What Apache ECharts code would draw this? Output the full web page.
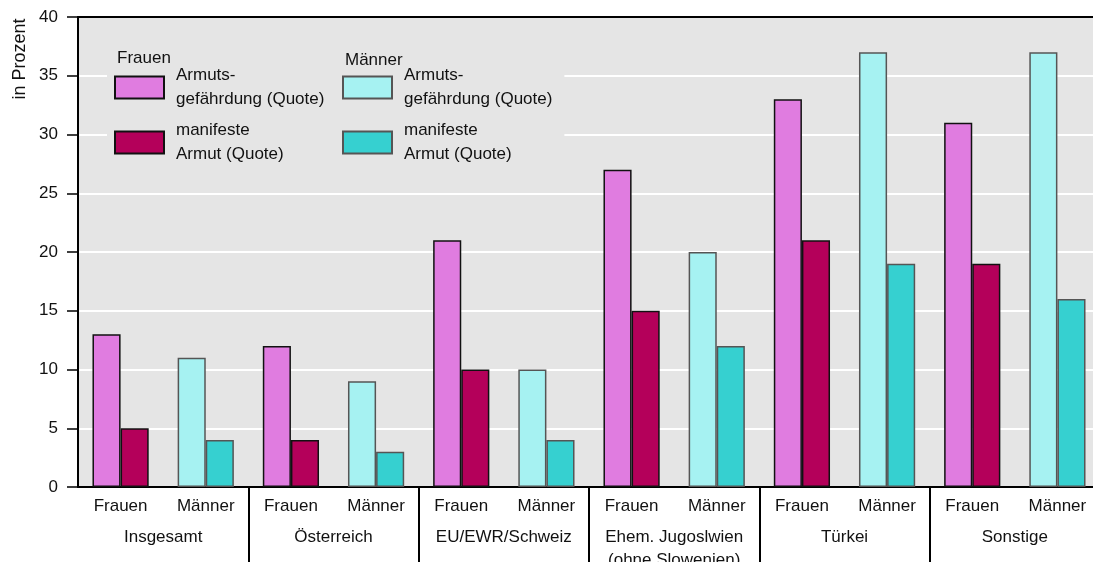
<!DOCTYPE html>
<html>
<head>
<meta charset="utf-8">
<script src="https://cdn.jsdelivr.net/npm/echarts@6/dist/echarts.min.js"></script>
<style>
  html, body { margin: 0; padding: 0; background: #fff; }
  #chart { width: 1093px; height: 562px; }
</style>
</head>
<body>
<div id="chart"></div>
<script>
// Armutsgefährdung / manifeste Armut nach Staatsbürgerschaft und Geschlecht

const categories = ['Frauen', 'Männer', 'Frauen', 'Männer', 'Frauen', 'Männer',
  'Frauen', 'Männer', 'Frauen', 'Männer', 'Frauen', 'Männer'];
const groups = ['Insgesamt', 'Österreich', 'EU/EWR/Schweiz',
  'Ehem. Jugoslwien\n(ohne Slowenien)', 'Türkei', 'Sonstige'];

const frauenArmutsgef = [13, null, 12, null, 21, null, 27, null, 33, null, 31, null];
const frauenManifest  = [5, null, 4, null, 10, null, 15, null, 21, null, 19, null];
const maennerArmutsgef = [null, 11, null, 9, null, 10, null, 20, null, 37, null, 37];
const maennerManifest  = [null, 4, null, 3, null, 4, null, 12, null, 19, null, 16];

const yTicks = { min: 0, max: 40, step: 5 };

const legendNames = {
  fA: 'Armuts-\ngefährdung (Quote)',
  fM: 'manifeste\nArmut (Quote)',
  mA: 'Armuts-\ngefährdung (Quote)',
  mM: 'manifeste\nArmut (Quote)'
};

const font = 'Liberation Sans, Arial, sans-serif';
const chart = echarts.init(document.getElementById('chart'));

const legendText = {
  fontFamily: font,
  fontSize: 17,
  color: '#111',
  lineHeight: 24,
  padding: [24, 0, 0, 7]
};

const option = {
  animation: false,
  grid: {
    left: 78, right: -7, top: 17, bottom: 75,
    outerBoundsMode: 'none',
    show: true, backgroundColor: '#e5e5e5', borderWidth: 0
  },
  legend: [
    {
      data: ['fA', 'fM'],
      orient: 'vertical',
      left: 107, top: 41.5,
      padding: [10, 12, 5, 7],
      backgroundColor: '#e5e5e5',
      icon: 'rect',
      itemWidth: 49, itemHeight: 22,
      itemGap: -17,
      selectedMode: false,
      formatter: n => legendNames[n],
      textStyle: legendText
    },
    {
      data: ['mA', 'mM'],
      orient: 'vertical',
      left: 335, top: 41.5,
      padding: [10, 12, 5, 7],
      backgroundColor: '#e5e5e5',
      icon: 'rect',
      itemWidth: 49, itemHeight: 22,
      itemGap: -17,
      selectedMode: false,
      formatter: n => legendNames[n],
      textStyle: legendText
    }
  ],
  graphic: [
    { type: 'text', x: 20, y: 59, rotation: Math.PI / 2, z: 100,
      style: { text: 'in Prozent', font: '18px ' + font, fill: '#111', align: 'center', verticalAlign: 'middle' } },
    { type: 'text', x: 117, y: 58, z: 100,
      style: { text: 'Frauen', font: '17px ' + font, fill: '#111', verticalAlign: 'middle' } },
    { type: 'text', x: 345, y: 60, z: 100,
      style: { text: 'Männer', font: '17px ' + font, fill: '#111', verticalAlign: 'middle' } }
  ],
  xAxis: [
    {
      type: 'category',
      data: categories,
      axisLine: { lineStyle: { color: '#000', width: 2 } },
      axisTick: { show: false },
      axisLabel: { interval: 0, fontFamily: font, fontSize: 17, color: '#111', margin: 9, lineHeight: 20 }
    },
    {
      type: 'category',
      data: groups,
      position: 'bottom',
      axisLine: { show: false },
      axisTick: {
        show: true, length: 75,
        interval: i => i > 0,
        lineStyle: { color: '#000', width: 2 }
      },
      axisLabel: { interval: 0, fontFamily: font, fontSize: 17, color: '#111', margin: 39, lineHeight: 23 }
    },
    {
      type: 'category',
      data: groups,
      position: 'top',
      axisLine: { lineStyle: { color: '#000', width: 2 } },
      axisTick: { show: false },
      axisLabel: { show: false }
    }
  ],
  yAxis: {
    type: 'value',
    min: yTicks.min, max: yTicks.max, interval: yTicks.step,
    axisLine: { show: true, lineStyle: { color: '#000', width: 2 } },
    axisTick: { show: true, length: 11, lineStyle: { color: '#000', width: 1.5 } },
    axisLabel: { fontFamily: font, fontSize: 17, color: '#111', margin: 20 },
    splitLine: { lineStyle: { color: '#fff', width: 2 } }
  },
  series: [
    {
      name: 'fA', type: 'bar', stack: 'a', data: frauenArmutsgef,
      barCategoryGap: '34%', barGap: 0,
      itemStyle: { color: '#e07ce0', borderColor: '#111', borderWidth: 1.5 }
    },
    {
      name: 'fM', type: 'bar', stack: 'b', data: frauenManifest,
      itemStyle: { color: '#b4005a', borderColor: '#111', borderWidth: 1.5 }
    },
    {
      name: 'mA', type: 'bar', stack: 'a', data: maennerArmutsgef,
      itemStyle: { color: '#a6f2f2', borderColor: '#555', borderWidth: 1.5 }
    },
    {
      name: 'mM', type: 'bar', stack: 'b', data: maennerManifest,
      itemStyle: { color: '#36d0d0', borderColor: '#555', borderWidth: 1.5 }
    }
  ]
};

chart.setOption(option);
</script>
</body>
</html>
